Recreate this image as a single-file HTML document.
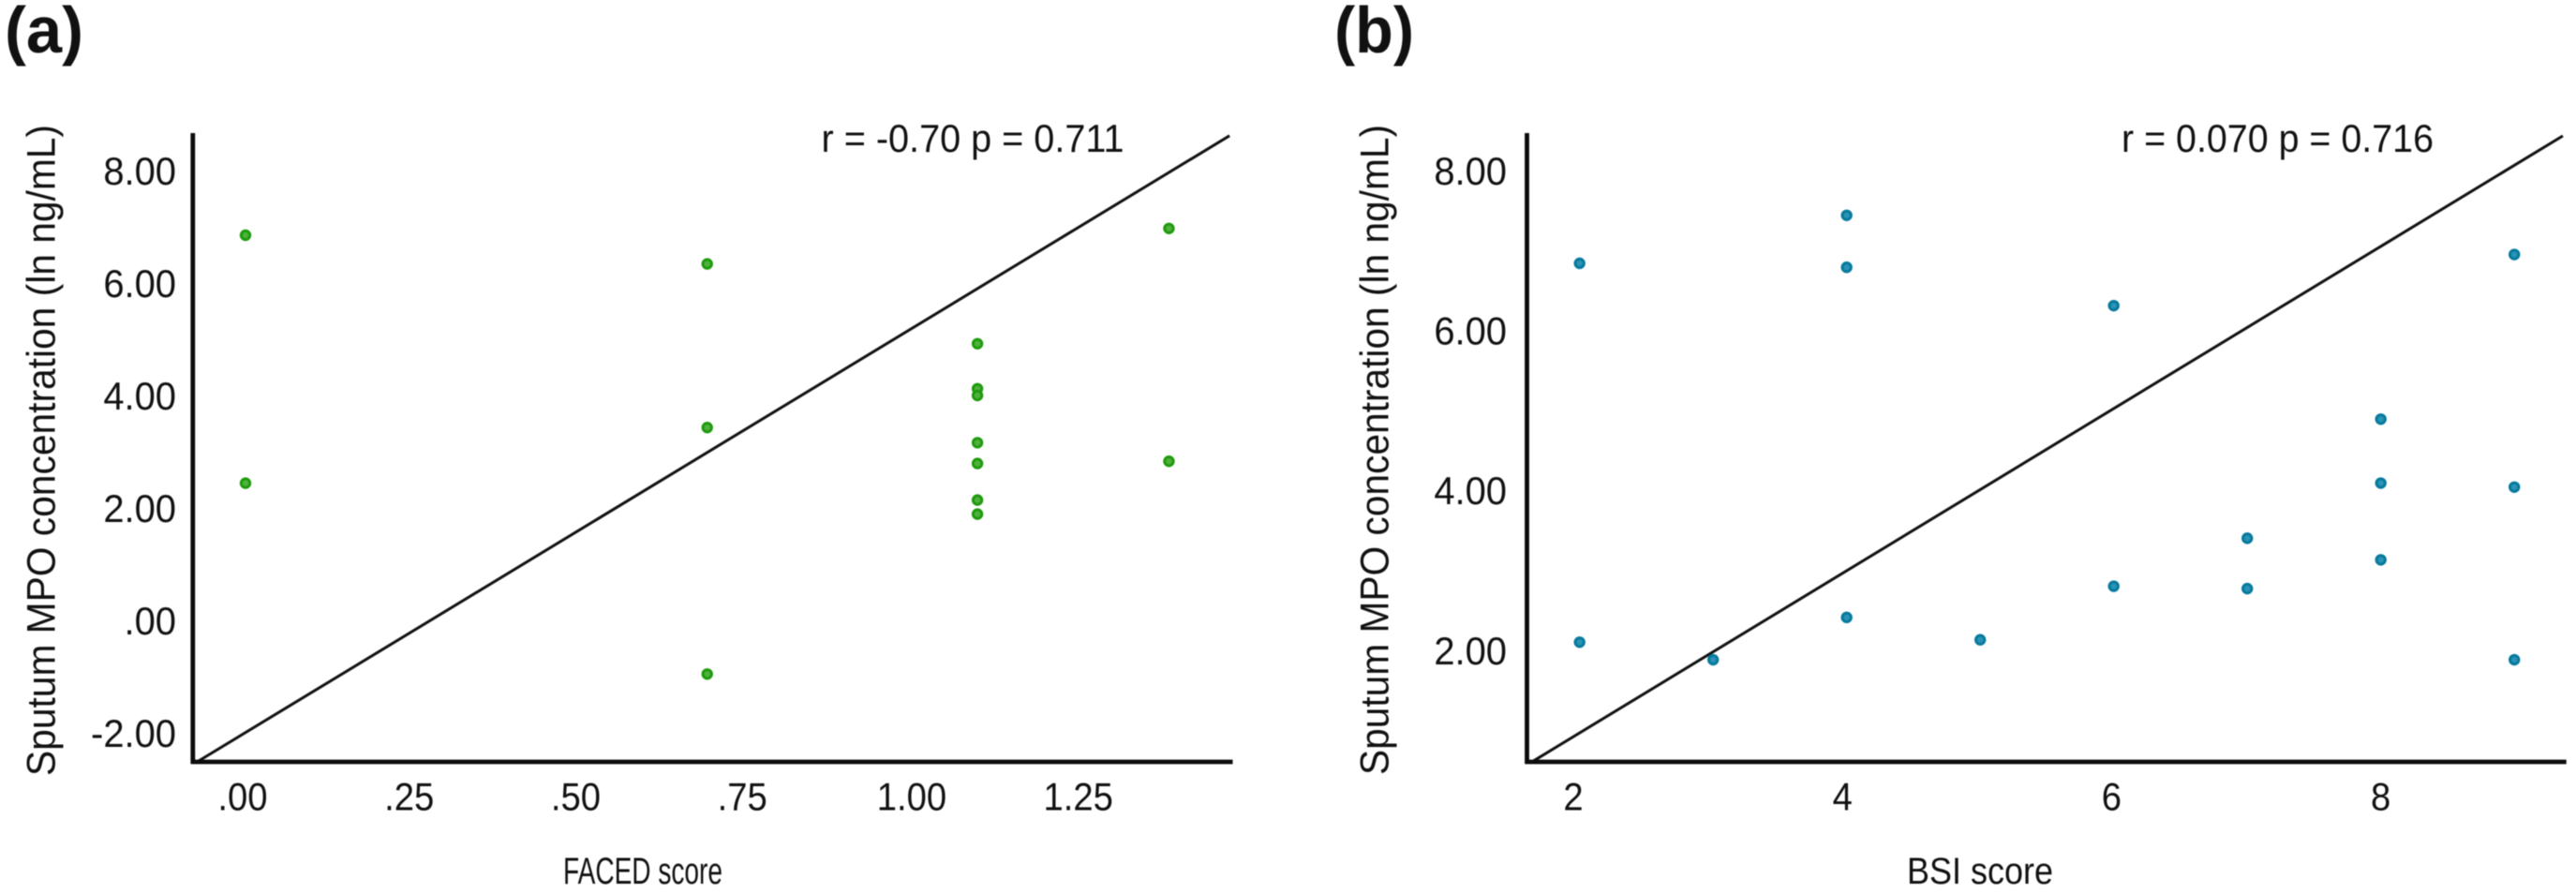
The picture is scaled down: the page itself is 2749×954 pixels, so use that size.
<!DOCTYPE html>
<html lang="en">
<head>
<meta charset="utf-8">
<title>Sputum MPO concentration vs FACED and BSI scores</title>
<style>
  html, body { margin: 0; padding: 0; background: #fff; width: 2749px; height: 954px; overflow: hidden; }
  svg { display: block; filter: blur(0.6px); }
  text { font-family: "Liberation Sans", sans-serif; fill: #111; }
</style>
</head>
<body>
<svg id="figure" xmlns="http://www.w3.org/2000/svg" width="2749" height="954" viewBox="0 0 2749 954">
  <rect x="0" y="0" width="2749" height="954" fill="#ffffff"/>

  <text x="5" y="56" font-size="70" font-weight="bold" textLength="84" lengthAdjust="spacingAndGlyphs">(a)</text>
  <text x="1424" y="56" font-size="70" font-weight="bold" textLength="85" lengthAdjust="spacingAndGlyphs">(b)</text>

  <text transform="translate(58.5 828) rotate(-90)" font-size="43" textLength="695" lengthAdjust="spacingAndGlyphs">Sputum MPO concentration (ln ng/mL)</text>
  <text transform="translate(1481.5 827) rotate(-90)" font-size="43" textLength="694" lengthAdjust="spacingAndGlyphs">Sputum MPO concentration (ln ng/mL)</text>

  <text x="601" y="943" font-size="40" textLength="170" lengthAdjust="spacingAndGlyphs">FACED score</text>
  <text x="2035" y="943" font-size="40" textLength="156" lengthAdjust="spacingAndGlyphs">BSI score</text>

  <text x="876.5" y="162" font-size="42" textLength="323" lengthAdjust="spacingAndGlyphs">r = -0.70 p = 0.711</text>
  <text x="2264" y="162" font-size="42" textLength="333" lengthAdjust="spacingAndGlyphs">r = 0.070 p = 0.716</text>

  <g id="panel-a"></g>
  <g id="panel-b"></g>
</svg>

<script>
// Panel (a) data
const facedScores = [0, 0, 0.693, 0.693, 0.693, 1.0986, 1.0986, 1.0986, 1.0986, 1.0986, 1.0986, 1.0986, 1.386, 1.386];
const facedMpo = [6.85, 2.44, 6.34, 3.43, -0.955, 4.92, 4.12, 4.0, 3.16, 2.79, 2.14, 1.89, 6.97, 2.83];
const facedXTicks = [0, 0.25, 0.5, 0.75, 1, 1.25];
const facedXTickLabels = [".00", ".25", ".50", ".75", "1.00", "1.25"];
const facedYTicks = [8, 6, 4, 2, 0, -2];
const facedYTickLabels = ["8.00", "6.00", "4.00", "2.00", ".00", "-2.00"];
const facedLineX = [-0.0703, 1.477];
const facedLineY = [-2.5, 8.62];

// Panel (b) data
const bsiScores = [2, 2, 3, 4, 4, 4, 5, 6, 6, 7, 7, 8, 8, 8, 9, 9, 9];
const bsiMpo = [6.84, 2.10, 1.88, 7.44, 6.79, 2.41, 2.13, 6.31, 2.80, 3.40, 2.77, 4.89, 4.09, 3.13, 6.95, 4.04, 1.88];
const bsiXTicks = [2, 4, 6, 8];
const bsiXTickLabels = ["2", "4", "6", "8"];
const bsiYTicks = [8, 6, 4, 2];
const bsiYTickLabels = ["8.00", "6.00", "4.00", "2.00"];
const bsiLineX = [1.658, 9.363];
const bsiLineY = [0.618, 8.434];

const NS = "http://www.w3.org/2000/svg";

function svgEl(tag, attrs) {
  const el = document.createElementNS(NS, tag);
  for (const k in attrs) el.setAttribute(k, attrs[k]);
  return el;
}

function drawPanel(group, cfg) {
  // reference line
  const line = svgEl("line", {
    x1: cfg.x(cfg.lineX[0]), y1: cfg.y(cfg.lineY[0]),
    x2: cfg.x(cfg.lineX[1]), y2: cfg.y(cfg.lineY[1]),
    stroke: "#111", "stroke-width": 3
  });
  
  
  group.appendChild(line);

  // axes
  const yAxis = svgEl("line", {
    x1: cfg.axisLeft, y1: cfg.axisTop, x2: cfg.axisLeft, y2: cfg.axisBottom + 2,
    stroke: "#0c0c0c", "stroke-width": 4.8
  });
  
  
  group.appendChild(yAxis);

  const xAxis = svgEl("line", {
    x1: cfg.axisLeft - 2, y1: cfg.axisBottom, x2: cfg.axisRight, y2: cfg.axisBottom,
    stroke: "#0c0c0c", "stroke-width": 4.8
  });
  
  
  group.appendChild(xAxis);

  // y tick labels
  cfg.yTicks.forEach(function (v, i) {
    const t = svgEl("text", {
      x: cfg.yLabelRight, y: cfg.yLabelPos(v) + 15, "font-size": 42, "text-anchor": "end"
    });
    
    
    t.textContent = cfg.yLabels[i];
    group.appendChild(t);
    t.setAttribute("textLength", t.getComputedTextLength() * 0.95);
    t.setAttribute("lengthAdjust", "spacingAndGlyphs");
  });

  // x tick labels
  cfg.xTicks.forEach(function (v, i) {
    const label = cfg.xLabels[i];
    const t = svgEl("text", {
      x: cfg.xLabelPos(v) - (label.charAt(0) === "." ? 3 : 0),
      y: 864.5, "font-size": 42, "text-anchor": "middle"
    });
    
    
    t.textContent = label;
    group.appendChild(t);
    t.setAttribute("textLength", t.getComputedTextLength() * 0.91);
    t.setAttribute("lengthAdjust", "spacingAndGlyphs");
  });

  // points
  cfg.xs.forEach(function (xv, i) {
    const c = svgEl("circle", {
      cx: cfg.x(xv), cy: cfg.y(cfg.ys[i]), r: 4.7,
      fill: cfg.fill, stroke: cfg.stroke, "stroke-width": 3
    });
    
    
    group.appendChild(c);
  });
}

const facedX = function (v) { return 262 + 711 * v; };
const facedY = function (v) { return 662 - 60 * v; };
const bsiX = function (v) { return 1685.7 + 142.5 * (v - 2); };
const bsiY = function (v) { return 182 + 85.3 * (8 - v); };

drawPanel(document.getElementById("panel-a"), {
  x: facedX, y: facedY,
  xLabelPos: facedX, yLabelPos: facedY,
  xs: facedScores, ys: facedMpo,
  xTicks: facedXTicks, xLabels: facedXTickLabels,
  yTicks: facedYTicks, yLabels: facedYTickLabels,
  lineX: facedLineX, lineY: facedLineY,
  axisLeft: 205.8, axisTop: 142, axisBottom: 813, axisRight: 1315.5,
  yLabelRight: 188,
  fill: "#4fb23c", stroke: "#1f9a0e"
});

drawPanel(document.getElementById("panel-b"), {
  x: bsiX, y: bsiY,
  xLabelPos: function (v) { return 1679 + 143.6 * (v - 2); },
  yLabelPos: bsiY,
  xs: bsiScores, ys: bsiMpo,
  xTicks: bsiXTicks, xLabels: bsiXTickLabels,
  yTicks: bsiYTicks, yLabels: bsiYTickLabels,
  lineX: bsiLineX, lineY: bsiLineY,
  axisLeft: 1629.5, axisTop: 142, axisBottom: 813, axisRight: 2738.7,
  yLabelRight: 1608,
  fill: "#2b93b3", stroke: "#067a9e"
});
</script>
</body>
</html>
